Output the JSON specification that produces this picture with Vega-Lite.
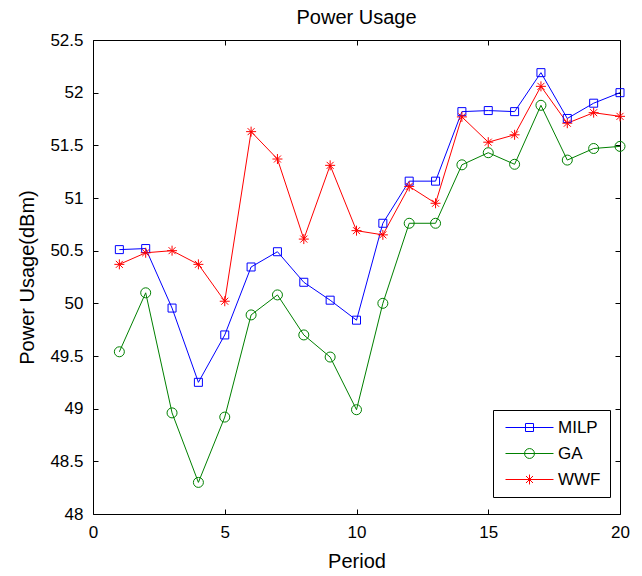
{
  "$schema": "https://vega.github.io/schema/vega-lite/v6.json",
  "autosize": {"type": "none"},
  "width": 527,
  "height": 474,
  "padding": {"left": 93, "top": 40, "right": 22, "bottom": 62},
  "background": "white",
  "config": {
    "font": "Liberation Sans",
    "view": {"stroke": "black", "strokeWidth": 1, "fill": null},
    "axis": {"grid": false, "domain": false, "ticks": true, "zindex": 1, "tickColor": "black", "tickWidth": 1, "tickOpacity": 1, "tickSize": 5, "offset": -5, "labelFlush": false, "labelColor": "black", "labelFontSize": 17, "labelFont": "Liberation Sans", "titleFont": "Liberation Sans", "titleFontSize": 20, "titleFontWeight": "normal", "titleColor": "black"}
  },
  "title": {"text": "Power Usage", "fontSize": 20, "fontWeight": "normal", "font": "Liberation Sans", "color": "black", "offset": 3},
  "data": {
    "values": [
      {"period": 1, "series": "MILP", "value": 50.51},
      {"period": 2, "series": "MILP", "value": 50.52},
      {"period": 3, "series": "MILP", "value": 49.955},
      {"period": 4, "series": "MILP", "value": 49.25},
      {"period": 5, "series": "MILP", "value": 49.70},
      {"period": 6, "series": "MILP", "value": 50.345},
      {"period": 7, "series": "MILP", "value": 50.49},
      {"period": 8, "series": "MILP", "value": 50.20},
      {"period": 9, "series": "MILP", "value": 50.03},
      {"period": 10, "series": "MILP", "value": 49.84},
      {"period": 11, "series": "MILP", "value": 50.76},
      {"period": 12, "series": "MILP", "value": 51.16},
      {"period": 13, "series": "MILP", "value": 51.16},
      {"period": 14, "series": "MILP", "value": 51.82},
      {"period": 15, "series": "MILP", "value": 51.83},
      {"period": 16, "series": "MILP", "value": 51.82},
      {"period": 17, "series": "MILP", "value": 52.19},
      {"period": 18, "series": "MILP", "value": 51.755},
      {"period": 19, "series": "MILP", "value": 51.90},
      {"period": 20, "series": "MILP", "value": 52.0},
      {"period": 1, "series": "GA", "value": 49.54},
      {"period": 2, "series": "GA", "value": 50.10},
      {"period": 3, "series": "GA", "value": 48.96},
      {"period": 4, "series": "GA", "value": 48.30},
      {"period": 5, "series": "GA", "value": 48.92},
      {"period": 6, "series": "GA", "value": 49.89},
      {"period": 7, "series": "GA", "value": 50.08},
      {"period": 8, "series": "GA", "value": 49.70},
      {"period": 9, "series": "GA", "value": 49.49},
      {"period": 10, "series": "GA", "value": 48.99},
      {"period": 11, "series": "GA", "value": 50.00},
      {"period": 12, "series": "GA", "value": 50.76},
      {"period": 13, "series": "GA", "value": 50.76},
      {"period": 14, "series": "GA", "value": 51.315},
      {"period": 15, "series": "GA", "value": 51.43},
      {"period": 16, "series": "GA", "value": 51.32},
      {"period": 17, "series": "GA", "value": 51.88},
      {"period": 18, "series": "GA", "value": 51.36},
      {"period": 19, "series": "GA", "value": 51.47},
      {"period": 20, "series": "GA", "value": 51.49},
      {"period": 1, "series": "WWF", "value": 50.37},
      {"period": 2, "series": "WWF", "value": 50.48},
      {"period": 3, "series": "WWF", "value": 50.50},
      {"period": 4, "series": "WWF", "value": 50.37},
      {"period": 5, "series": "WWF", "value": 50.02},
      {"period": 6, "series": "WWF", "value": 51.63},
      {"period": 7, "series": "WWF", "value": 51.37},
      {"period": 8, "series": "WWF", "value": 50.61},
      {"period": 9, "series": "WWF", "value": 51.31},
      {"period": 10, "series": "WWF", "value": 50.69},
      {"period": 11, "series": "WWF", "value": 50.65},
      {"period": 12, "series": "WWF", "value": 51.11},
      {"period": 13, "series": "WWF", "value": 50.95},
      {"period": 14, "series": "WWF", "value": 51.77},
      {"period": 15, "series": "WWF", "value": 51.53},
      {"period": 16, "series": "WWF", "value": 51.60},
      {"period": 17, "series": "WWF", "value": 52.06},
      {"period": 18, "series": "WWF", "value": 51.71},
      {"period": 19, "series": "WWF", "value": 51.81},
      {"period": 20, "series": "WWF", "value": 51.775}
    ]
  },
  "resolve": {"axis": {"x": "independent", "y": "independent"}, "scale": {"stroke": "independent", "shape": "independent"}},
  "layer": [
    {
      "mark": {"type": "line", "strokeWidth": 1},
      "encoding": {
        "x": {"field": "period", "type": "quantitative", "scale": {"domain": [0, 20], "nice": false, "zero": false},
              "axis": {"orient": "bottom", "ticks": true, "tickSize": 5, "offset": -5, "tickColor": "black", "tickWidth": 1, "domain": false, "grid": false, "values": [0, 5, 10, 15, 20], "title": "Period", "labelPadding": 10, "titlePadding": 11}},
        "y": {"field": "value", "type": "quantitative", "scale": {"domain": [48, 52.5], "nice": false, "zero": false},
              "axis": {"orient": "left", "ticks": true, "tickSize": 5, "offset": -5, "tickColor": "black", "tickWidth": 1, "domain": false, "grid": false, "values": [48, 48.5, 49, 49.5, 50, 50.5, 51, 51.5, 52, 52.5], "format": "~f", "title": "Power Usage(dBm)", "labelPadding": 10, "titlePadding": 12}},
        "color": {"field": "series", "type": "nominal", "scale": {"domain": ["MILP", "GA", "WWF"], "range": ["#0000ff", "#008000", "#ff0000"]}, "legend": null},
        "detail": {"field": "series"}
      }
    },
    {
      "transform": [{"filter": "datum.series === 'MILP'"}],
      "mark": {"type": "point", "shape": "square", "size": 64, "filled": false, "color": "#0000ff", "strokeWidth": 1, "opacity": 1},
      "encoding": {
        "x": {"field": "period", "type": "quantitative", "axis": null},
        "y": {"field": "value", "type": "quantitative", "axis": null}
      }
    },
    {
      "transform": [{"filter": "datum.series === 'GA'"}],
      "mark": {"type": "point", "shape": "circle", "size": 100, "filled": false, "color": "#008000", "strokeWidth": 1, "opacity": 1},
      "encoding": {
        "x": {"field": "period", "type": "quantitative", "axis": null},
        "y": {"field": "value", "type": "quantitative", "axis": null}
      }
    },
    {
      "transform": [{"filter": "datum.series === 'WWF'"}],
      "mark": {"type": "point", "shape": "M-1,0L1,0M0,-1L0,1M-0.7,-0.7L0.7,0.7M-0.7,0.7L0.7,-0.7", "size": 100, "filled": false, "color": "#ff0000", "strokeWidth": 1, "opacity": 1},
      "encoding": {
        "x": {"field": "period", "type": "quantitative", "axis": null},
        "y": {"field": "value", "type": "quantitative", "axis": null}
      }
    },
    {
      "mark": {"type": "point", "filled": false, "opacity": 0, "size": 81},
      "encoding": {
        "x": {"field": "period", "type": "quantitative",
              "axis": {"orient": "top", "ticks": true, "tickSize": 5, "offset": -5, "tickColor": "black", "tickWidth": 1, "domain": false, "grid": false, "values": [0, 5, 10, 15, 20], "labels": false, "title": null}},
        "y": {"field": "value", "type": "quantitative",
              "axis": {"orient": "right", "ticks": true, "tickSize": 5, "offset": -5, "tickColor": "black", "tickWidth": 1, "domain": false, "grid": false, "values": [48, 48.5, 49, 49.5, 50, 50.5, 51, 51.5, 52, 52.5], "labels": false, "title": null}},
        "stroke": {"field": "series", "type": "nominal", "scale": {"domain": ["MILP", "GA", "WWF"], "range": ["#0000ff", "#008000", "#ff0000"]},
                   "legend": {"orient": "none", "legendX": 400, "legendY": 370, "title": null, "strokeColor": "black", "fillColor": "white", "padding": 9, "rowPadding": 8, "symbolSize": 81, "symbolStrokeWidth": 1, "symbolOpacity": 1, "symbolOffset": 19, "labelOffset": 20, "labelFontSize": 17, "labelColor": "black", "labelFont": "Liberation Sans"}},
        "shape": {"field": "series", "type": "nominal", "scale": {"domain": ["MILP", "GA", "WWF"], "range": [
          "M-5.33,0L5.33,0M-0.89,-0.89L0.89,-0.89L0.89,0.89L-0.89,0.89Z",
          "M-5.33,0L5.33,0M1.1,0A1.1,1.1,0,1,1,-1.1,0A1.1,1.1,0,1,1,1.1,0Z",
          "M-5.33,0L5.33,0M0,-1.1L0,1.1M-0.78,-0.78L0.78,0.78M-0.78,0.78L0.78,-0.78"
        ]},
                   "legend": {"orient": "none", "legendX": 400, "legendY": 370, "title": null, "strokeColor": "black", "fillColor": "white", "padding": 9, "rowPadding": 8, "symbolSize": 81, "symbolStrokeWidth": 1, "symbolOpacity": 1, "symbolOffset": 19, "labelOffset": 20, "labelFontSize": 17, "labelColor": "black", "labelFont": "Liberation Sans"}}
      }
    }
  ]
}
